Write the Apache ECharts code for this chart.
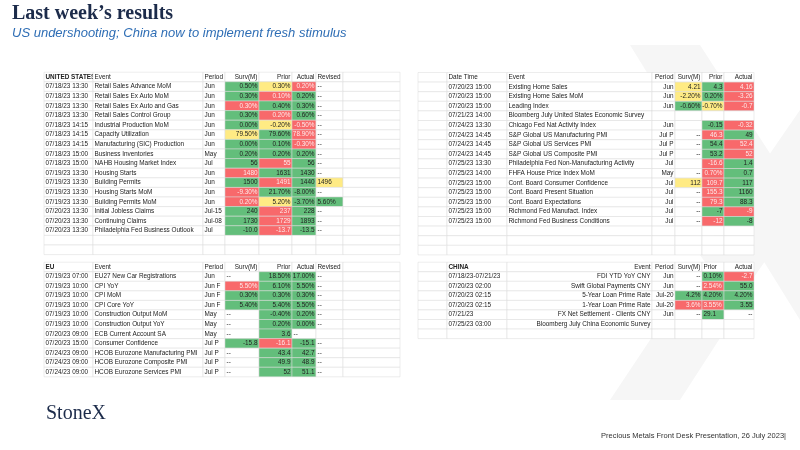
<!DOCTYPE html>
<html><head><meta charset="utf-8">
<script src="https://cdn.jsdelivr.net/npm/echarts@6/dist/echarts.min.js"></script>
<style>html,body{margin:0;padding:0;background:#fff}#c{width:800px;height:450px}</style>
</head><body><div id="c"></div>
<script>
// ---------- DATA ----------
const usHeader = ['UNITED STATES','Event','Period','Surv(M)','Prior','Actual','Revised',''];
const usTime = ['07/18/23 13:30','07/18/23 13:30','07/18/23 13:30','07/18/23 13:30','07/18/23 14:15','07/18/23 14:15','07/18/23 14:15','07/18/23 15:00','07/18/23 15:00','07/19/23 13:30','07/19/23 13:30','07/19/23 13:30','07/19/23 13:30','07/20/23 13:30','07/20/23 13:30','07/20/23 13:30'];
const usEvent = ['Retail Sales Advance MoM','Retail Sales Ex Auto MoM','Retail Sales Ex Auto and Gas','Retail Sales Control Group','Industrial Production MoM','Capacity Utilization','Manufacturing (SIC) Production','Business Inventories','NAHB Housing Market Index','Housing Starts','Building Permits','Housing Starts MoM','Building Permits MoM','Initial Jobless Claims','Continuing Claims','Philadelphia Fed Business Outlook'];
const usPeriod = ['Jun','Jun','Jun','Jun','Jun','Jun','Jun','May','Jul','Jun','Jun','Jun','Jun','Jul-15','Jul-08','Jul'];
const usSurv = ['0.50%','0.30%','0.30%','0.30%','0.00%','79.50%','0.00%','0.20%','56','1480','1500','-9.30%','0.20%','240','1730','-10.0'];
const usPrior = ['0.30%','0.10%','0.40%','0.20%','-0.20%','79.60%','0.10%','0.20%','55','1631','1491','21.70%','5.20%','237','1729','-13.7'];
const usActual = ['0.20%','0.20%','0.30%','0.60%','-0.50%','78.90%','-0.30%','0.20%','56','1430','1440','-8.00%','-3.70%','228','1893','-13.5'];
const usRevised = ['--','--','--','--','--','--','--','--','--','--','1496','--','5.60%','--','--','--'];
const usShade = ['gyr-','grg-','rgg-','grg-','gyr-','ygr-','ggr-','ggg-','grg-','rgg-','grgy','rgg-','rygg','grg-','grg-','grg-'];

const euHeader = ['EU','Event','Period','Surv(M)','Prior','Actual','Revised',''];
const euTime = ['07/19/23 07:00','07/19/23 10:00','07/19/23 10:00','07/19/23 10:00','07/19/23 10:00','07/19/23 10:00','07/20/23 09:00','07/20/23 15:00','07/24/23 09:00','07/24/23 09:00','07/24/23 09:00'];
const euEvent = ['EU27 New Car Registrations','CPI YoY','CPI MoM','CPI Core YoY','Construction Output MoM','Construction Output YoY','ECB Current Account SA','Consumer Confidence','HCOB Eurozone Manufacturing PMI','HCOB Eurozone Composite PMI','HCOB Eurozone Services PMI'];
const euPeriod = ['Jun','Jun F','Jun F','Jun F','May','May','May','Jul P','Jul P','Jul P','Jul P'];
const euSurv = ['--','5.50%','0.30%','5.40%','--','--','--','-15.8','--','--','--'];
const euPrior = ['18.50%','6.10%','0.30%','5.40%','-0.40%','0.20%','3.6','-16.1','43.4','49.9','52'];
const euActual = ['17.00%','5.50%','0.30%','5.50%','0.20%','0.00%','--','-15.1','42.7','48.9','51.1'];
const euRevised = ['--','--','--','--','--','--','','--','--','--','--'];
const euShade = ['-gg-','rgg-','ggg-','ggg-','-gg-','-gg-','-g--','grg-','-gg-','-gg-','-gg-'];

const rtHeader = ['','Date Time','Event','Period','Surv(M)','Prior','Actual'];
const rtTime = ['07/20/23 15:00','07/20/23 15:00','07/20/23 15:00','07/21/23 14:00','07/24/23 13:30','07/24/23 14:45','07/24/23 14:45','07/24/23 14:45','07/25/23 13:30','07/25/23 14:00','07/25/23 15:00','07/25/23 15:00','07/25/23 15:00','07/25/23 15:00','07/25/23 15:00'];
const rtEvent = ['Existing Home Sales','Existing Home Sales MoM','Leading Index','Bloomberg July United States Economic Survey','Chicago Fed Nat Activity Index','S&P Global US Manufacturing PMI','S&P Global US Services PMI','S&P Global US Composite PMI','Philadelphia Fed Non-Manufacturing Activity','FHFA House Price Index MoM','Conf. Board Consumer Confidence','Conf. Board Present Situation','Conf. Board Expectations','Richmond Fed Manufact. Index','Richmond Fed Business Conditions'];
const rtPeriod = ['Jun','Jun','Jun','','Jun','Jul P','Jul P','Jul P','Jul','May','Jul','Jul','Jul','Jul','Jul'];
const rtSurv = ['4.21','-2.20%','-0.60%','','','--','--','--','','--','112','--','--','--','--'];
const rtPrior = ['4.3','0.20%','-0.70%','','-0.15','46.3','54.4','53.2','-16.6','0.70%','109.7','155.3','79.3','-7','-12'];
const rtActual = ['4.16','-3.26','-0.7','','-0.32','49','52.4','52','1.4','0.7','117','1160','88.3','-9','-8'];
const rtShade = ['ygr','ygr','gyr','---','-gr','-rg','-gr','-gr','-rg','-rg','yrg','-rg','-rg','-gr','-rg'];

const cnHeader = ['','CHINA','Event','Period','Surv(M)','Prior','Actual'];
const cnTime = ['07/18/23-07/21/23','07/20/23 02:00','07/20/23 02:15','07/20/23 02:15','07/21/23','07/25/23 03:00'];
const cnEvent = ['FDI YTD YoY CNY','Swift Global Payments CNY','5-Year Loan Prime Rate','1-Year Loan Prime Rate','FX Net Settlement - Clients CNY','Bloomberg July China Economic Survey'];
const cnPeriod = ['Jun','Jun','Jul-20','Jul-20','Jun',''];
const cnSurv = ['--','--','4.2%','3.6%','--',''];
const cnPrior = ['0.10%','2.54%','4.20%','3.55%','29.1',''];
const cnActual = ['-2.7','55.0','4.20%','3.55','--',''];
const cnShade = ['-gr','-rg','ggg','rrg','-g-','---'];

// ---------- LAYOUT ----------
const COLORS = {g:'#63be7b', r:'#f8696b', y:'#ffeb84'};
const FONT = 'Liberation Sans';
const tables = [
  {edges:[44,93,203,225,259,292,316,343,400], top:72.2, step:9.6, rows:19, dashLeft:true,
   align:['left','left','left','right','right','right','left','left'],
   header:usHeader, cols:[usTime,usEvent,usPeriod,usSurv,usPrior,usActual,usRevised], shade:usShade, shadeStart:3},
  {edges:[44,93,203,225,259,292,316,343,400], top:262.2, step:9.55, rows:12, dashLeft:true,
   align:['left','left','left','right','right','right','left','left'],
   header:euHeader, cols:[euTime,euEvent,euPeriod,euSurv,euPrior,euActual,euRevised], shade:euShade, shadeStart:3},
  {edges:[418,447,507,652,675,702,724,754], top:72.5, step:9.6, rows:19,
   align:['left','left','left','right','right','right','right'],
   header:rtHeader, cols:[null,rtTime,rtEvent,rtPeriod,rtSurv,rtPrior,rtActual], shade:rtShade, shadeStart:4},
  {edges:[418,447,507,652,675,702,724,754], top:262.2, step:9.55, rows:8,
   align:['left','left','right','right','right','left','right'],
   header:cnHeader, cols:[null,cnTime,cnEvent,cnPeriod,cnSurv,cnPrior,cnActual], shade:cnShade, shadeStart:4}
];

tables.forEach(t => {
  t.cells = [];
  const nc = t.edges.length - 1;
  for (let r = 0; r < t.rows; r++) {
    for (let c = 0; c < nc; c++) {
      let text = '', fill = null, bold = false;
      if (r === 0) { text = t.header[c] || ''; bold = (c === 0 || t.header[c]==='CHINA'); }
      else {
        const arr = t.cols[c];
        if (arr && r-1 < arr.length) text = arr[r-1];
        if (r-1 < t.shade.length && c >= t.shadeStart) {
          const k = t.shade[r-1][c - t.shadeStart];
          if (COLORS[k]) fill = COLORS[k];
        }
      }
      t.cells.push({c, r, text, fill, bold});
    }
  }
});

const grids=[], xAxes=[], yAxes=[], series=[];
tables.forEach((t,i) => {
  const l = t.edges[0], w = t.edges[t.edges.length-1]-l;
  grids.push({left:l, top:t.top, width:w, height:t.rows*t.step});
  xAxes.push({type:'value', gridIndex:i, min:l, max:l+w, show:false});
  yAxes.push({type:'value', gridIndex:i, min:0, max:t.rows, inverse:true, show:false});
  series.push({
    type:'custom', xAxisIndex:i, yAxisIndex:i, silent:true, clip:false,
    data:t.cells.map(d=>[d.c,d.r]),
    renderItem:(params, api) => {
      const d = t.cells[params.dataIndex];
      const p0 = api.coord([t.edges[d.c], d.r]);
      const p1 = api.coord([t.edges[d.c+1], d.r+1]);
      const x0=p0[0], y0=p0[1], w=p1[0]-p0[0], h=p1[1]-p0[1];
      let al = t.align[d.c];
      if (t.dashLeft && d.text==='--') al = 'left';
      const tx = al==='left' ? x0+1.5 : x0+w-1.5;
      const children = [{
        type:'rect', shape:{x:x0,y:y0,width:w,height:h},
        style:{fill:d.fill||'#fff', stroke:'#dadada', lineWidth:0.5}
      }];
      if (d.text) children.push({
        type:'text', style:{x:tx, y:y0+h/2, text:d.text, align:al, verticalAlign:'middle',
          fill: d.fill==='#f8696b' ? '#fde9e9' : '#222',
          font:(d.bold?'bold ':'')+'6.4px "'+FONT+'"'}
      });
      return {type:'group', children};
    }
  });
});

const chart = echarts.init(document.getElementById('c'), null, {renderer:'canvas'});
chart.setOption({
  animation:false,
  grid:grids, xAxis:xAxes, yAxis:yAxes, series,
  graphic:[
    {type:'polygon', z:-10, shape:{points:[[630,45],[700,45],[800,200],[800,320]]}, style:{fill:'#f6f6f6'}},
    {type:'polygon', z:-10, shape:{points:[[700,255],[800,110],[800,210],[735,305]]}, style:{fill:'#f6f6f6'}},
    {type:'polygon', z:-10, shape:{points:[[610,400],[680,400],[735,315],[700,265]]}, style:{fill:'#f6f6f6'}},
    {type:'text', left:12, top:4, style:{text:'Last week\u2019s results', font:'bold 20px "Liberation Serif"', fill:'#1c2b4a'}},
    {type:'text', left:12, top:27, style:{text:'US undershooting; China now to implement fresh stimulus', font:'italic 13px "Liberation Sans"', fill:'#2f6eb5'}},
    {type:'text', left:46, top:404, style:{text:'StoneX', font:'20px "Liberation Serif"', fill:'#1c2b4a'}},
    {type:'text', right:14, top:432, style:{text:'Precious Metals Front Desk Presentation, 26 July 2023|', font:'7.5px "Liberation Sans"', fill:'#333'}}
  ]
});
</script></body></html>
